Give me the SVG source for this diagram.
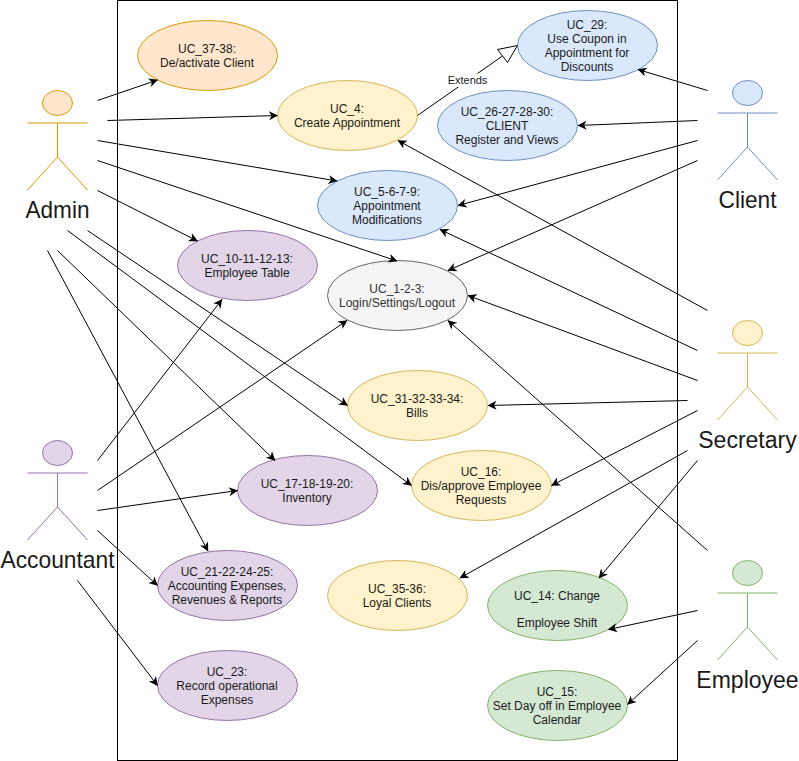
<svg xmlns="http://www.w3.org/2000/svg" width="799" height="761" viewBox="0 0 799 761">
<style>
text{font-family:"Liberation Sans",Arial,sans-serif;font-size:12px;fill:#1a1a1a;text-anchor:middle}
.lbl{font-size:24px}
.lbs{font-size:23px}
.ext{font-size:11px}
.c line{stroke:#000;stroke-width:1;fill:none;marker-end:url(#arr)}
.orange ellipse{fill:#ffe6cc;stroke:#d79b00;stroke-width:1}
.yellow ellipse{fill:#fff2cc;stroke:#d6b656;stroke-width:1}
.blue ellipse{fill:#dae8fc;stroke:#6c8ebf;stroke-width:1}
.purple ellipse{fill:#e1d5e7;stroke:#9673a6;stroke-width:1}
.gray ellipse{fill:#f5f5f5;stroke:#666;stroke-width:1}
.gray text{fill:#333}
.green ellipse{fill:#d5e8d4;stroke:#82b366;stroke-width:1}
</style>
<defs>
<marker id="arr" markerUnits="userSpaceOnUse" markerWidth="12" markerHeight="12" refX="9.5" refY="6" orient="auto" overflow="visible"><path d="M10 6L1 1.500L3.500 6L1 10.500Z" fill="#000"/></marker>
<path id="actor" d="M0 33V67M-30 33H30M0 67L-30 100M0 67L30 100"/>
</defs>
<rect id="boundary" x="117.500" y="0.500" width="560" height="760" fill="#fff" stroke="#000" stroke-width="1"/>

<g id="uc-37-38" class="orange"><ellipse cx="207.500" cy="55.500" rx="70" ry="35"/><text x="207" y="53">UC_37-38:</text><text x="207" y="67">De/activate Client</text></g>
<g id="uc-4" class="yellow"><ellipse cx="347.500" cy="115.500" rx="70" ry="35"/><text x="347" y="113">UC_4:</text><text x="347" y="127">Create Appointment</text></g>
<g id="uc-29" class="blue"><ellipse cx="587.500" cy="45.500" rx="70" ry="35"/><text x="587" y="29">UC_29:</text><text x="587" y="43">Use Coupon in</text><text x="587" y="57">Appointment for</text><text x="587" y="71">Discounts</text></g>
<g id="uc-26-27-28-30" class="blue"><ellipse cx="507.500" cy="125.500" rx="70" ry="35"/><text x="507" y="116">UC_26-27-28-30:</text><text x="507" y="130">CLIENT</text><text x="507" y="144">Register and Views</text></g>
<g id="uc-5-6-7-9" class="blue"><ellipse cx="387.500" cy="205.500" rx="70" ry="35"/><text x="387" y="196">UC_5-6-7-9:</text><text x="387" y="210">Appointment</text><text x="387" y="224">Modifications</text></g>
<g id="uc-10-11-12-13" class="purple"><ellipse cx="247.500" cy="265.500" rx="70" ry="35"/><text x="247" y="263">UC_10-11-12-13:</text><text x="247" y="277">Employee Table</text></g>
<g id="uc-1-2-3" class="gray"><ellipse cx="397.500" cy="295.500" rx="70" ry="35"/><text x="397" y="293">UC_1-2-3:</text><text x="397" y="307">Login/Settings/Logout</text></g>
<g id="uc-31-32-33-34" class="yellow"><ellipse cx="417.500" cy="405.500" rx="70" ry="35"/><text x="417" y="403">UC_31-32-33-34:</text><text x="417" y="417">Bills</text></g>
<g id="uc-16" class="yellow"><ellipse cx="481.500" cy="485.500" rx="70" ry="35"/><text x="481" y="476">UC_16:</text><text x="481" y="490">Dis/approve Employee</text><text x="481" y="504">Requests</text></g>
<g id="uc-17-18-19-20" class="purple"><ellipse cx="307.500" cy="490.500" rx="70" ry="35"/><text x="307" y="488">UC_17-18-19-20:</text><text x="307" y="502">Inventory</text></g>
<g id="uc-21-22-24-25" class="purple"><ellipse cx="227.500" cy="585.500" rx="70" ry="35"/><text x="227" y="576">UC_21-22-24-25:</text><text x="227" y="590">Accounting Expenses,</text><text x="227" y="604">Revenues &amp; Reports</text></g>
<g id="uc-23" class="purple"><ellipse cx="227.500" cy="685.500" rx="70" ry="35"/><text x="227" y="676">UC_23:</text><text x="227" y="690">Record operational</text><text x="227" y="704">Expenses</text></g>
<g id="uc-35-36" class="yellow"><ellipse cx="397.500" cy="595.500" rx="70" ry="35"/><text x="397" y="593">UC_35-36:</text><text x="397" y="607">Loyal Clients</text></g>
<g id="uc-14" class="green"><ellipse cx="557.500" cy="605.500" rx="70" ry="35"/><text x="557" y="600">UC_14: Change</text><text x="557" y="627">Employee Shift</text></g>
<g id="uc-15" class="green"><ellipse cx="557.500" cy="705.500" rx="70" ry="35"/><text x="557" y="696">UC_15:</text><text x="557" y="710">Set Day off in Employee</text><text x="557" y="724">Calendar</text></g>

<g id="connectors" class="c">
<line x1="97.500" y1="100.500" x2="157.500" y2="80"/>
<line x1="107.500" y1="120.500" x2="277.500" y2="115.500"/>
<line x1="97.500" y1="140.500" x2="337" y2="181"/>
<line x1="97.500" y1="160.500" x2="397" y2="261"/>
<line x1="97.500" y1="190.500" x2="197.500" y2="241"/>
<line x1="87.500" y1="230.500" x2="347.500" y2="405.500"/>
<line x1="67.500" y1="230.500" x2="411.500" y2="485.500"/>
<line x1="57.500" y1="250.500" x2="275" y2="460.500"/>
<line x1="47.500" y1="250.500" x2="208" y2="551"/>
<line x1="97.500" y1="460.500" x2="222" y2="299.500"/>
<line x1="97.500" y1="490.500" x2="347" y2="320.500"/>
<line x1="97.500" y1="510.500" x2="237.500" y2="490.500"/>
<line x1="97.500" y1="530.500" x2="157.500" y2="585.500"/>
<line x1="77.500" y1="580.500" x2="157.500" y2="685.500"/>
<line x1="707.500" y1="90.500" x2="638" y2="69.500"/>
<line x1="697.500" y1="120.500" x2="578" y2="125.500"/>
<line x1="697.500" y1="140.500" x2="458" y2="205.500"/>
<line x1="697.500" y1="160.500" x2="448" y2="270.500"/>
<line x1="707.500" y1="310.500" x2="398" y2="140.500"/>
<line x1="697.500" y1="350.500" x2="440" y2="229.500"/>
<line x1="697.500" y1="380.500" x2="468" y2="295.500"/>
<line x1="687.500" y1="400.500" x2="488" y2="405.500"/>
<line x1="697.500" y1="410.500" x2="551.500" y2="485.500"/>
<line x1="687.500" y1="450.500" x2="460" y2="578"/>
<line x1="697.500" y1="460.500" x2="599" y2="578"/>
<line x1="707.500" y1="550.500" x2="448" y2="320.500"/>
<line x1="697.500" y1="610.500" x2="608.500" y2="629.500"/>
<line x1="697.500" y1="640.500" x2="627.500" y2="704.500"/>
<path id="extends" d="M417.500 115.500L502.500 56" fill="none" stroke="#000" stroke-width="1"/>
<path d="M517.500 45.500L497.500 49.500L507.500 62.500Z" fill="#fff" stroke="#000" stroke-width="1"/>
<rect x="448" y="73.500" width="39" height="13.500" fill="#fff"/>
<text class="ext" x="467.500" y="84">Extends</text>
</g>

<g id="actor-admin" class="orange"><ellipse cx="57.500" cy="103" rx="15" ry="12.500"/><use href="#actor" x="57.500" y="90" fill="none" stroke="#d79b00"/><text class="lbl" x="57.500" y="218" textLength="64" lengthAdjust="spacingAndGlyphs">Admin</text></g>
<g id="actor-accountant" class="purple"><ellipse cx="57.500" cy="453" rx="15" ry="12.500"/><use href="#actor" x="57.500" y="440" fill="none" stroke="#9673a6"/><text class="lbl" x="57.500" y="568" textLength="114" lengthAdjust="spacingAndGlyphs">Accountant</text></g>
<g id="actor-client" class="blue"><ellipse cx="747.500" cy="93" rx="15" ry="12.500"/><use href="#actor" x="747.500" y="80" fill="none" stroke="#6c8ebf"/><text class="lbl" x="747.500" y="208" textLength="58" lengthAdjust="spacingAndGlyphs">Client</text></g>
<g id="actor-secretary" class="yellow"><ellipse cx="747.500" cy="333" rx="15" ry="12.500"/><use href="#actor" x="747.500" y="320" fill="none" stroke="#d6b656"/><text class="lbs" x="747.500" y="448">Secretary</text></g>
<g id="actor-employee" class="green"><ellipse cx="747.500" cy="573" rx="15" ry="12.500"/><use href="#actor" x="747.500" y="560" fill="none" stroke="#82b366"/><text class="lbs" x="747.500" y="688">Employee</text></g>
</svg>
